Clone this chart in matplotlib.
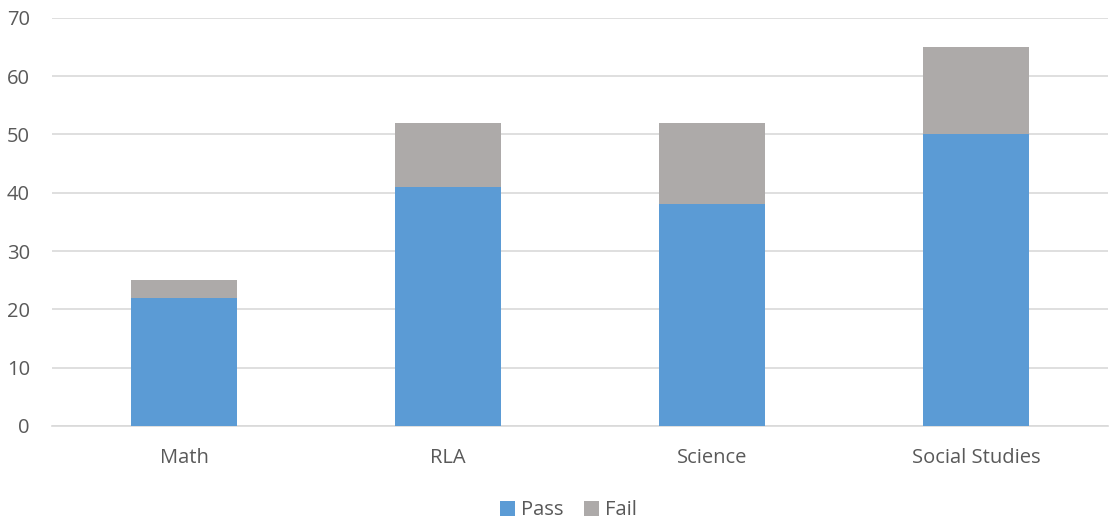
import numpy as np
import matplotlib.pyplot as plt

# 数据
categories = ['Math', 'RLA', 'Science', 'Social Studies']
pass_vals = [22, 41, 38, 50]
fail_vals = [3, 11, 14, 15]
y_ticks = [0, 10, 20, 30, 40, 50, 60, 70]

plt.rcParams['font.family'] = ['Open Sans', 'DejaVu Sans']

fig = plt.figure(figsize=(11.1, 5.27), dpi=100)
ax = fig.add_axes([0.047, 0.192, 0.951, 0.774])

x = np.arange(len(categories))
ax.bar(x, pass_vals, width=0.4, color='#5B9BD5', label='Pass', zorder=3)
ax.bar(x, fail_vals, width=0.4, bottom=pass_vals, color='#ADAAA9', label='Fail', zorder=3)

ax.set_xlim(-0.5, 3.5)
ax.set_ylim(0, 70)
ax.set_yticks(y_ticks)
ax.set_xticks(x)
ax.set_xticklabels(categories)
ax.yaxis.grid(True, color='#D9D9D9', linewidth=1.2, zorder=0)
for s in ['top', 'right', 'left']:
    ax.spines[s].set_visible(False)
ax.spines['bottom'].set_color('#D9D9D9')
ax.spines['bottom'].set_linewidth(1.2)
ax.tick_params(axis='both', length=0, labelsize=14.5, colors='#595959')
ax.tick_params(axis='x', pad=16)
ax.tick_params(axis='y', pad=16)

ax.legend(loc='center', bbox_to_anchor=(0.489, -0.207), ncol=2, frameon=False,
          fontsize=14.5, labelcolor='#595959', handlelength=0.75, handleheight=0.75,
          handletextpad=0.3, columnspacing=1.0)

plt.savefig('out.png', dpi=100)
